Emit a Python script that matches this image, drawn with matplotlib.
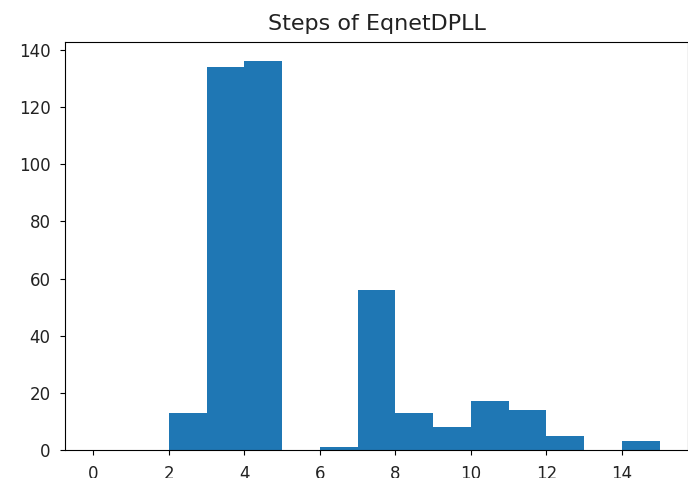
import numpy as np
import matplotlib
matplotlib.use("Agg")
import matplotlib.pyplot as plt

# number of steps per run, binned by unit width
bin_edges = np.arange(0, 16)
step_counts = [0, 0, 13, 134, 136, 0, 1, 56, 13, 8, 17, 14, 5, 0, 3]

fig = plt.figure(figsize=(6.88, 4.78), dpi=100)
ax = fig.add_axes([65 / 688, 28 / 478, 623 / 688, 408 / 478])

ax.hist(bin_edges[:-1], bins=bin_edges, weights=step_counts, color="#1f77b4")
ax.set_title("Steps of EqnetDPLL", fontsize=16, pad=9, color="#222222")
ax.tick_params(labelsize=12, labelcolor="#222222")
ax.tick_params(axis="x", pad=7)
ax.tick_params(axis="y", pad=7)

fig.savefig("out.png", dpi=100)
